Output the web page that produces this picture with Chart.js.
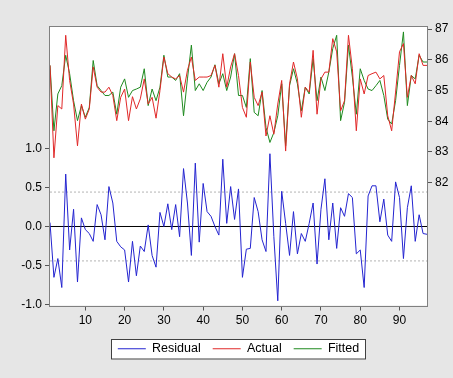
<html>
<head>
<meta charset="UTF-8"/>
<style>
html, body {
 margin: 0px;
 padding: 0px;
 overflow: hidden;
 background-color: #e6e6e6;
}
canvas { display: block; }
</style>
<script src="https://cdn.jsdelivr.net/npm/chart.js@4.4.0/dist/chart.umd.min.js"></script>
<title>Residual / Actual / Fitted</title>
</head>
<body>
<canvas id="myChart" width="453" height="378"></canvas>
<script type="text/javascript">
// values, obs 1..97
var residual = [0.05, -0.65, -0.41, -0.78, 0.67, -0.30, 0.22, -0.71, 0.11, -0.04,
    -0.09, -0.19, 0.28, 0.15, -0.17, 0.51, 0.30, -0.19, -0.26, -0.30,
    -0.71, -0.19, -0.63, -0.25, -0.32, 0.02, -0.37, -0.52, 0.18, 0.00,
    0.29, -0.04, 0.28, -0.13, 0.74, 0.30, -0.37, 0.81, -0.20, 0.55,
    0.19, 0.13, 0.00, -0.11, 0.86, 0.04, 0.51, 0.09, 0.48, -0.65,
    -0.29, -0.28, 0.37, 0.19, -0.17, -0.32, 0.93, -0.13, -0.95, 0.45,
    0.04, -0.37, 0.19, -0.35, -0.09, -0.19, 0.04, 0.30, -0.48, 0.22,
    0.61, -0.17, 0.30, -0.28, 0.24, 0.13, 0.42, 0.37, -0.35, -0.30,
    -0.78, 0.39, 0.52, 0.52, 0.06, 0.35, -0.11, -0.19, 0.57, 0.37,
    -0.41, 0.24, 0.52, -0.19, 0.15, -0.09, -0.10];

var actual = [85.82, 82.81, 84.51, 84.40, 86.80, 85.33, 84.56, 83.20, 84.56, 84.07,
    84.40, 85.77, 85.11, 84.95, 84.95, 85.11, 84.84, 84.02, 84.78, 85.05,
    84.02, 84.80, 84.40, 84.73, 85.38, 84.56, 84.78, 84.10, 85.00, 86.09,
    85.55, 85.44, 85.38, 85.49, 84.95, 85.66, 86.09, 85.33, 85.44, 85.44,
    85.44, 85.49, 85.82, 85.11, 86.20, 85.11, 85.77, 86.20, 85.49, 84.45,
    84.13, 85.93, 84.78, 84.51, 84.95, 83.52, 84.18, 83.58, 84.56, 85.33,
    83.03, 85.22, 85.93, 85.38, 84.13, 85.11, 84.95, 86.31, 84.23, 85.38,
    85.60, 85.60, 86.69, 86.26, 84.34, 84.67, 86.80, 85.71, 83.69, 85.38,
    84.89, 85.49, 85.55, 85.60, 85.38, 85.49, 84.18, 83.69, 84.95, 86.26,
    86.53, 84.78, 85.49, 85.22, 86.20, 85.82, 85.82];

var fitted = [85.82, 83.69, 84.89, 85.16, 86.15, 85.55, 84.67, 84.02, 84.51, 84.13,
    84.45, 85.98, 85.16, 85.00, 84.84, 84.84, 84.95, 84.23, 85.11, 85.38,
    84.78, 85.00, 85.05, 85.11, 85.71, 84.51, 85.05, 84.67, 85.11, 86.15,
    85.44, 85.44, 85.33, 85.55, 84.18, 85.38, 86.48, 85.00, 85.22, 85.00,
    85.27, 85.44, 85.84, 85.22, 85.55, 85.00, 85.44, 86.20, 84.84, 84.84,
    84.45, 86.04, 84.29, 84.18, 85.00, 83.80, 83.31, 83.63, 84.18, 85.22,
    83.20, 85.16, 85.71, 85.22, 84.34, 85.11, 84.89, 86.04, 84.67, 85.44,
    85.00, 85.60, 86.37, 86.80, 84.02, 84.62, 86.48, 85.44, 84.23, 85.71,
    85.33, 85.05, 85.00, 85.16, 85.33, 84.84, 84.07, 83.91, 84.67, 85.82,
    86.91, 84.51, 85.49, 85.38, 86.15, 85.93, 85.93];

var xTicks = [10, 20, 30, 40, 50, 60, 70, 80, 90];
var leftTicks = [-1.0, -0.5, 0.0, 0.5, 1.0];
var rightTicks = [82, 83, 84, 85, 86, 87];
var stdBand = [-0.44, 0.44];

var obs = residual.map(function(v, i) { return i + 1; });

function pts(values) {
    return values.map(function(v, i) { return {x: obs[i], y: v}; });
}
function flat(v) {
    return [{x: obs[0], y: v}, {x: obs[obs.length - 1], y: v}];
}

var FONT = 'Liberation Sans, Arial, sans-serif';

var framePlugin = {
    id: 'frame',
    beforeDraw: function(chart) {
        var c = chart.ctx, a = chart.chartArea;
        c.save();
        c.fillStyle = '#e6e6e6';
        c.fillRect(0, 0, chart.width, chart.height);
        c.fillStyle = '#ffffff';
        c.fillRect(a.left, a.top, a.right - a.left, a.bottom - a.top);
        // box round the legend
        var hb = chart.legend.legendHitBoxes;
        if (hb && hb.length) {
            var l = hb[0].left, r = 0, t = hb[0].top, h = hb[0].height;
            hb.forEach(function(b) { l = Math.min(l, b.left); r = Math.max(r, b.left + b.width); });
            c.fillStyle = '#ffffff';
            c.strokeStyle = '#404040';
            c.lineWidth = 1;
            c.fillRect(Math.round(l) - 7, Math.round(t) - 4, Math.round(r - l) + 14, h + 8);
            c.strokeRect(Math.round(l) - 6.5, Math.round(t) - 3.5, Math.round(r - l) + 13, h + 7);
        }
        c.restore();
    },
    afterDraw: function(chart) {
        var c = chart.ctx, a = chart.chartArea;
        c.save();
        c.strokeStyle = '#808080';
        c.lineWidth = 1;
        c.strokeRect(Math.round(a.left) - 0.5, Math.round(a.top) - 0.5,
                     Math.round(a.right - a.left) + 1, Math.round(a.bottom - a.top) + 1);
        c.restore();
    }
};

var ctx = document.getElementById('myChart').getContext('2d');
var myChart = new Chart(ctx, {
    type: 'line',
    data: {
        datasets: [{
            label: 'Residual',
            data: pts(residual),
            yAxisID: 'y',
            borderColor: '#2424d0',
            backgroundColor: '#2424d0',
            borderWidth: 1,
            pointRadius: 0,
            tension: 0
        }, {
            label: 'Actual',
            data: pts(actual),
            yAxisID: 'y2',
            borderColor: '#e02828',
            backgroundColor: '#e02828',
            borderWidth: 1,
            pointRadius: 0,
            tension: 0
        }, {
            label: 'Fitted',
            data: pts(fitted),
            yAxisID: 'y2',
            borderColor: '#1f8a1f',
            backgroundColor: '#1f8a1f',
            borderWidth: 1,
            pointRadius: 0,
            tension: 0
        }, {
            label: 'zero',
            data: flat(0),
            yAxisID: 'y',
            borderColor: '#000000',
            borderWidth: 1,
            pointRadius: 0,
            order: 10
        }, {
            label: 'upper',
            data: flat(stdBand[1]),
            yAxisID: 'y',
            borderColor: '#b4b4b4',
            borderWidth: 1,
            borderDash: [2, 2],
            pointRadius: 0,
            order: 10
        }, {
            label: 'lower',
            data: flat(stdBand[0]),
            yAxisID: 'y',
            borderColor: '#b4b4b4',
            borderWidth: 1,
            borderDash: [2, 2],
            pointRadius: 0,
            order: 10
        }]
    },
    options: {
        responsive: false,
        animation: false,
        events: [],
        layout: { padding: { top: 27, left: 0, right: 0, bottom: 13 } },
        plugins: {
            tooltip: { enabled: false },
            legend: {
                display: true,
                position: 'bottom',
                fullSize: false,
                labels: {
                    usePointStyle: true,
                    pointStyle: 'line',
                    pointStyleWidth: 28,
                    padding: 12,
                    color: '#000000',
                    font: { family: FONT, size: 12.5 },
                    filter: function(item) { return item.datasetIndex < 3; }
                }
            }
        },
        scales: {
            x: {
                type: 'linear',
                min: 1,
                max: obs.length,
                afterBuildTicks: function(axis) {
                    axis.ticks = xTicks.map(function(v) { return {value: v}; });
                },
                afterFit: function(axis) { axis.height = 25; },
                grid: { drawOnChartArea: false, drawTicks: true, tickLength: 5, color: '#555555' },
                border: { display: false },
                ticks: { color: '#000000', font: { family: FONT, size: 12 }, maxRotation: 0, padding: 3 }
            },
            y: {
                type: 'linear',
                position: 'left',
                min: -1.01,
                max: 2.55,
                afterBuildTicks: function(axis) {
                    axis.ticks = leftTicks.map(function(v) { return {value: v}; });
                },
                afterFit: function(axis) { axis.width = 50; },
                grid: { drawOnChartArea: false, drawTicks: true, tickLength: 5, color: '#555555' },
                border: { display: false },
                ticks: {
                    color: '#000000',
                    font: { family: FONT, size: 12 },
                    padding: 3,
                    callback: function(v) { return v.toFixed(1); }
                }
            },
            y2: {
                type: 'linear',
                position: 'right',
                min: 78.0,
                max: 87.07,
                afterBuildTicks: function(axis) {
                    axis.ticks = rightTicks.map(function(v) { return {value: v}; });
                },
                afterFit: function(axis) { axis.width = 26; },
                grid: { drawOnChartArea: false, drawTicks: true, tickLength: 5, color: '#555555' },
                border: { display: false },
                ticks: { color: '#000000', font: { family: FONT, size: 12 }, padding: 3 }
            }
        }
    },
    plugins: [framePlugin]
});
</script>
</body>
</html>
